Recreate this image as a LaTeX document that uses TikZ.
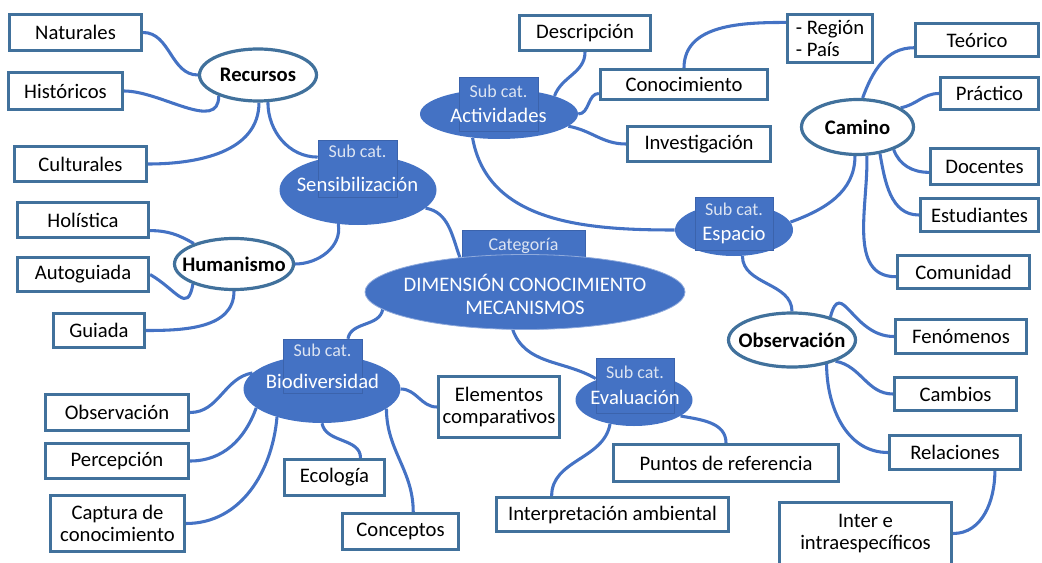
\documentclass[tikz,border=0pt]{standalone}
\usepackage{fontspec}
\setmainfont{Carlito}
\usetikzlibrary{shapes.geometric, backgrounds}

\definecolor{mapfill}{HTML}{4472C4}
\definecolor{mapedge}{HTML}{41719C}
\definecolor{subedge}{HTML}{3B63AC}
\definecolor{subtext}{HTML}{DCE4F2}
\newcommand{\subcattext}{\fontsize{13.5}{15}\selectfont\color{subtext}}

\begin{document}
\begin{tikzpicture}[
  x=0.75pt, y=-0.75pt,
  every node/.style={font=\fontsize{15.5}{17}\selectfont, inner sep=0pt},
  box/.style={rectangle, draw=mapedge, line width=2.4pt, fill=white, align=center},
  topic/.style={ellipse, draw=mapedge, line width=2.4pt, fill=white},
  topictext/.style={font=\fontsize{15.5}{17}\selectfont\bfseries},
  subcat/.style={ellipse, fill=mapfill},
  subbox/.style={rectangle, fill=mapfill, draw=subedge, line width=0.4pt, text=white, align=center},
  hub/.style={ellipse, fill=mapfill, draw=white!40!mapfill, line width=0.6pt},
  branch/.style={draw=mapfill, line width=2.3pt},
]
\useasboundingbox (0,0) rectangle (1042,563);

% outer boxes
\node[box, minimum width=99pt, minimum height=27pt] (nat) at (75.5,32.5) {Naturales};
\node[box, minimum width=85.5pt, minimum height=27.75pt] (his) at (65.5,91) {Históricos};
\node[box, minimum width=99pt, minimum height=26.25pt] (cul) at (80.5,164) {Culturales};
\node[box, minimum width=98.25pt, minimum height=26.25pt] (hol) at (83,220) {Holística};
\node[box, minimum width=98.25pt, minimum height=25.5pt] (aut) at (83,274.5) {Autoguiada};
\node[box, minimum width=68.25pt, minimum height=25.5pt] (gui) at (99,330.5) {Guiada};
\node[box, minimum width=98.25pt, minimum height=26.25pt] (des) at (585,33) {Descripción};
\node[box, minimum width=125.25pt, minimum height=22.5pt] (con) at (684,84.5) {Conocimiento};
\node[box, minimum width=107.25pt, minimum height=26.25pt] (inv) at (699,144) {Investigación};
\node[box, minimum width=63.75pt, minimum height=36pt, align=left] (reg) at (830,38.5) {- Región\\- País};
\node[box, minimum width=92.25pt, minimum height=24.75pt] (teo) at (977,40) {Teórico};
\node[box, minimum width=73.5pt, minimum height=24pt] (pra) at (989.5,93.5) {Práctico};
\node[box, minimum width=81pt, minimum height=27pt] (doc) at (984.5,166.5) {Docentes};
\node[box, minimum width=88.5pt, minimum height=24.75pt] (est) at (979.5,215) {Estudiantes};
\node[box, minimum width=99pt, minimum height=24.75pt] (com) at (963.5,272) {Comunidad};
\node[box, minimum width=98.25pt, minimum height=25.5pt] (fen) at (961,336.5) {Fenómenos};
\node[box, minimum width=91.5pt, minimum height=24.75pt] (cam) at (955.5,394) {Cambios};
\node[box, minimum width=98.25pt, minimum height=25.5pt] (rel) at (955,452.5) {Relaciones};
\node[box, minimum width=129pt, minimum height=46.5pt] (int) at (865.5,533.5) {Inter e\\intraespecíficos};
\node[box, minimum width=90.75pt, minimum height=45.75pt] (ele) at (499,407) {Elementos\\comparativos};
\node[box, minimum width=168.75pt, minimum height=27.75pt] (pun) at (726,463) {Puntos de referencia};
\node[box, minimum width=174pt, minimum height=25.5pt] (ipa) at (612.5,514.5) {Interpretación ambiental};
\node[box, minimum width=107.25pt, minimum height=27pt] (obl) at (117,412.5) {Observación};
\node[box, minimum width=107.25pt, minimum height=26.25pt] (per) at (117,461) {Percepción};
\node[box, minimum width=100.5pt, minimum height=42pt] (cap) at (117.5,523.5) {Captura de\\conocimiento};
\node[box, minimum width=75pt, minimum height=27pt] (eco) at (334.5,477.5) {Ecología};
\node[box, minimum width=87pt, minimum height=27pt] (cpt) at (400.5,531.5) {Conceptos};

% topics
\node[topic, minimum width=87.75pt, minimum height=39pt, label={[topictext]center:Recursos}] (rec) at (258,75) {};
\node[topic, minimum width=89.25pt, minimum height=38.25pt, label={[topictext]center:Humanismo}] (hum) at (234,264) {};
\node[topic, minimum width=84pt, minimum height=41.25pt, label={[topictext]center:Camino}] (cmn) at (857.5,127) {};
\node[topic, minimum width=95.25pt, minimum height=40.5pt, label={[topictext]center:Observación}] (obr) at (792,340) {};

% sub categories
\node[subcat, minimum width=117.75pt, minimum height=52.5pt] (sen) at (358,190) {};
\node[subbox, minimum width=59.25pt, minimum height=42.75pt] (senR) at (357.5,168.5)
  {{\subcattext Sub cat.}\\[8.5pt]\makebox[0pt]{Sensibilización}};
\node[subcat, minimum width=118.5pt, minimum height=37.5pt] (act) at (499,114) {};
\node[subbox, minimum width=59.25pt, minimum height=40.5pt] (actR) at (498.5,104)
  {{\subcattext Sub cat.}\\[1.75pt]\makebox[0pt]{Actividades}};
\node[subcat, minimum width=88.5pt, minimum height=39pt] (esp) at (734,230) {};
\node[subbox, minimum width=58.5pt, minimum height=39.75pt] (espR) at (734,223.5)
  {{\subcattext Sub cat.}\\[1.75pt]\makebox[0pt]{Espacio}};
\node[subcat, minimum width=117.75pt, minimum height=51pt] (bio) at (322,389) {};
\node[subbox, minimum width=59.25pt, minimum height=40.5pt] (bioR) at (322.5,366)
  {{\subcattext Sub cat.}\\[7pt]\makebox[0pt]{Biodiversidad}};
\node[subcat, minimum width=87.75pt, minimum height=39pt] (eva) at (634,400) {};
\node[subbox, minimum width=58.5pt, minimum height=41.25pt] (evaR) at (635,385.5)
  {{\subcattext Sub cat.}\\[2.5pt]\makebox[0pt]{Evaluación}};

% category
\node[subbox, minimum width=92.25pt, minimum height=24pt] (catR) at (523.5,246) {\subcattext Categoría};
\node[hub, minimum width=240pt, minimum height=56.25pt,
  label={[text=white, align=center, yshift=-2pt]center:DIMENSIÓN CONOCIMIENTO\\MECANISMOS}] (cen) at (525,292) {};

\begin{pgfonlayer}{background}
\draw[branch] (nat.east) to[out=0,in=180] (rec.west);
\draw[branch] (his.east) to[out=0,in=-90] (rec.208);
\draw[branch] (cul.east) to[out=0,in=-90] (rec.-88);
\draw[branch] (rec.-70) to[out=-90,in=180] (senR.164);
\draw[branch] (hol.-9) to[out=0,in=150] (hum.153);
\draw[branch] (aut.east) to[out=-30,in=-100,looseness=1.8] (hum.206);
\draw[branch] (gui.east) to[out=0,in=-90] (hum.-90);
\draw[branch] (hum.east) to[out=0,in=-80] (sen.240);
\draw[branch] (sen.-15) to[out=-10,in=110] (cen.152);
\draw[branch] (act.222) to[out=-80,in=180] (esp.west);
\draw[branch] (act.18) to[out=70,in=-90] (des.south);
\draw[branch] (act.east) to[out=0,in=180] (con.186);
\draw[branch] (act.-10) to[out=-10,in=180] (inv.west);
\draw[branch] (con.north) to[out=90,in=180] (reg.160);
\draw[branch] (esp.8) to[out=20,in=-90] (cmn.-95);
\draw[branch] (esp.-72) to[out=-90,in=90] (obr.north);
\draw[branch] (cmn.80) to[out=70,in=180] (teo.187);
\draw[branch] (cmn.24) to[out=10,in=180] (pra.west);
\draw[branch] (cmn.-32) to[out=-70,in=180] (doc.186);
\draw[branch] (cmn.-50) to[out=-80,in=180] (est.west);
\draw[branch] (cmn.-72) to[out=-88,in=180] (com.184);
\draw[branch] (obr.31) to[out=75,in=180,looseness=1.6] (fen.west);
\draw[branch] (obr.-26) to[out=-10,in=180] (cam.west);
\draw[branch] (obr.-35) to[out=-90,in=180] (rel.west);
\draw[branch] (rel.-25) to[out=-90,in=0] (int.east);
\draw[branch] (cen.187) to[out=-100,in=80] (bioR.47);
\draw[branch] (cen.252) to[out=-70,in=150] (evaR.170);
\draw[branch] (bio.167) to[out=190,in=0] (obl.east);
\draw[branch] (bio.196) to[out=-110,in=0] (per.east);
\draw[branch] (bio.212) to[out=-95,in=0] (cap.east);
\draw[branch] (bio.south) to[out=-80,in=90] (eco.37);
\draw[branch] (bio.-17) to[out=-90,in=90] (cpt.57);
\draw[branch] (bio.east) to[out=0,in=180] (ele.west);
\draw[branch] (eva.225) to[out=-100,in=90] (ipa.163);
\draw[branch] (eva.-19) to[out=-10,in=90] (pun.north);
\end{pgfonlayer}
\end{tikzpicture}
\end{document}
